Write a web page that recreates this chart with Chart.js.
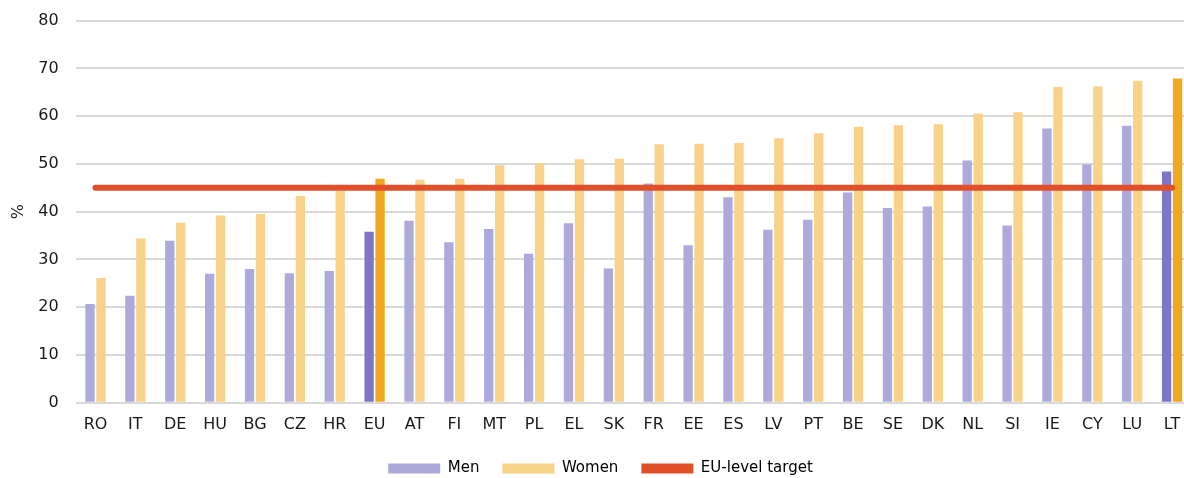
<!DOCTYPE html>
<html>
<head>
<meta charset="utf-8">
<script src="https://cdn.jsdelivr.net/npm/chart.js@4"></script>
<style>
  html, body { margin: 0; padding: 0; overflow: hidden; background: #fff; }
  /* shifted up a bit: the y axis reserves tick padding above the top gridline */
  #wrap { position: absolute; left: 0; top: -6px; width: 1192px; height: 484px; }
</style>
</head>
<body>
<div id="wrap"><canvas id="myChart"></canvas></div>
<script>
// Countries, sorted by share of women
var countries = ['RO', 'IT', 'DE', 'HU', 'BG', 'CZ', 'HR', 'EU', 'AT', 'FI', 'MT', 'PL', 'EL', 'SK',
    'FR', 'EE', 'ES', 'LV', 'PT', 'BE', 'SE', 'DK', 'NL', 'SI', 'IE', 'CY', 'LU', 'LT'];
var men = [20.7, 22.4, 33.9, 27.0, 28.0, 27.1, 27.6, 35.8, 38.1, 33.6, 36.4, 31.2, 37.6, 28.1,
    45.9, 33.0, 43.0, 36.2, 38.3, 44.0, 40.8, 41.1, 50.7, 37.1, 57.4, 49.9, 58.0, 48.4];
var women = [26.1, 34.4, 37.7, 39.2, 39.5, 43.3, 44.4, 46.9, 46.7, 46.9, 49.7, 50.2, 51.0, 51.1,
    54.1, 54.2, 54.4, 55.4, 56.4, 57.8, 58.1, 58.3, 60.5, 60.8, 66.1, 66.2, 67.4, 67.9];
var target = 45;
var highlighted = ['EU', 'LT'];
var yTicks = [0, 10, 20, 30, 40, 50, 60, 70, 80];

var ctx = document.getElementById('myChart').getContext('2d');
Chart.defaults.font.family = '"DejaVu Sans", sans-serif';
Chart.defaults.font.size = 16;
Chart.defaults.color = '#1a1a1a';

var menColors = countries.map(function (c) { return highlighted.indexOf(c) >= 0 ? '#7b76c8' : '#adaadb'; });
var womenColors = countries.map(function (c) { return highlighted.indexOf(c) >= 0 ? '#f0a821' : '#f7d288'; });

var myChart = new Chart(ctx, {
    type: 'bar',
    data: {
        labels: countries,
        datasets: [{
            label: 'Men',
            data: men,
            backgroundColor: menColors,
            categoryPercentage: 0.55,
            barPercentage: 0.85,
            order: 2
        }, {
            label: 'Women',
            data: women,
            backgroundColor: womenColors,
            categoryPercentage: 0.55,
            barPercentage: 0.85,
            order: 2
        }, {
            type: 'line',
            label: 'EU-level target',
            data: countries.map(function () { return target; }),
            borderColor: '#e2502b',
            backgroundColor: '#e2502b',
            borderWidth: 6,
            borderCapStyle: 'round',
            pointRadius: 0,
            order: 1
        }]
    },
    options: {
        responsive: true,
        maintainAspectRatio: false,
        animation: false,
        layout: { padding: { top: 0, left: 9, right: 0, bottom: -8 } },
        plugins: {
            tooltip: { enabled: false },
            legend: {
                position: 'bottom',
                labels: {
                    boxWidth: 52,
                    boxHeight: 10,
                    padding: 23,
                    font: { size: 15 },
                    // legend colours should be the normal (non-highlighted) ones
                    generateLabels: function (chart) {
                        return chart.data.datasets.map(function (ds, i) {
                            var col = i === 0 ? '#adaadb' : (i === 1 ? '#f7d288' : '#e2502b');
                            return { text: ds.label, fillStyle: col, strokeStyle: col, lineWidth: 0, datasetIndex: i };
                        });
                    }
                }
            }
        },
        scales: {
            x: {
                grid: { display: false },
                border: { display: false },
                ticks: { padding: 4 }
            },
            y: {
                min: 0,
                max: 80,
                afterBuildTicks: function (axis) {
                    axis.ticks = yTicks.map(function (v) { return { value: v }; });
                },
                grid: { color: '#d9d9d9', lineWidth: 2, drawTicks: false },
                border: { display: false },
                ticks: { padding: 17 },
                title: { display: true, text: '%', padding: { top: 0, bottom: -7 } }
            }
        }
    }
});
</script>
</body>
</html>
